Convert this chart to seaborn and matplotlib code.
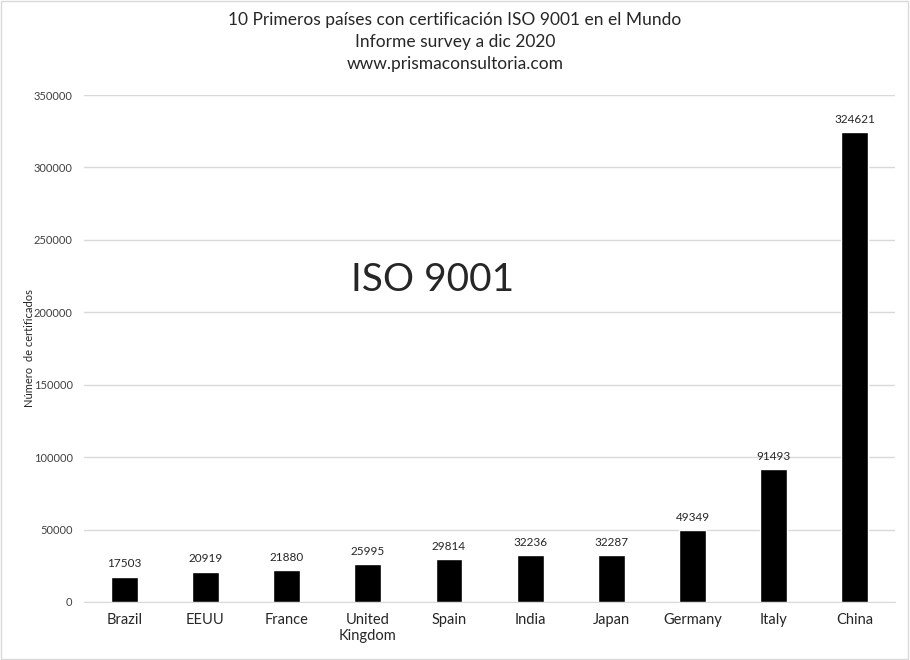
import matplotlib
matplotlib.use("Agg")
import matplotlib.pyplot as plt
import seaborn as sns
import pandas as pd
from matplotlib.patches import Rectangle

paises = ["Brazil", "EEUU", "France", "United\nKingdom", "Spain", "India",
          "Japan", "Germany", "Italy", "China"]
certificados = [17503, 20919, 21880, 25995, 29814, 32236, 32287, 49349, 91493, 324621]
yticks = [0, 50000, 100000, 150000, 200000, 250000, 300000, 350000]

df = pd.DataFrame({"pais": paises, "n": certificados})

sns.set_style("white")
plt.rcParams["font.family"] = ["Lato", "DejaVu Sans"]

fig = plt.figure(figsize=(9.1, 6.6), dpi=100)
ax = fig.add_axes([0.092, 0.088, 0.892, 0.768])

sns.barplot(data=df, x="pais", y="n", color="black", width=0.33,
            saturation=1, ax=ax, zorder=3)

ax.set_ylim(0, 350000)
ax.set_yticks(yticks)
ax.set_yticklabels([str(v) for v in yticks], fontsize=8, color="#404040")
ax.yaxis.grid(True, color="#d9d9d9", linewidth=1, zorder=0)
ax.tick_params(axis="y", length=0, pad=8)
ax.tick_params(axis="x", length=0, labelsize=10.5, pad=8)
for s in ["top", "right", "left"]:
    ax.spines[s].set_visible(False)
ax.spines["bottom"].set_color("#d9d9d9")
ax.set_xlabel("")
ax.set_ylabel("Número  de certificados", fontsize=8)
ax.yaxis.set_label_coords(-0.060, 0.5)

for i, v in enumerate(certificados):
    ax.text(i, v + 5000, str(v), ha="center", va="bottom", fontsize=8.5)

ax.text(3.8, 222000, "ISO 9001", ha="center", va="center", fontsize=28)

fig.text(0.5, 0.982, "10 Primeros países con certificación ISO 9001 en el Mundo\n"
         "Informe survey a dic 2020\nwww.prismaconsultoria.com",
         ha="center", va="top", fontsize=12.5, linespacing=1.45)

fig.patches.append(Rectangle((0.001, 0.001), 0.997, 0.997, transform=fig.transFigure,
                             fill=False, edgecolor="#d9d9d9", linewidth=1))

plt.savefig("out.png", dpi=100)
